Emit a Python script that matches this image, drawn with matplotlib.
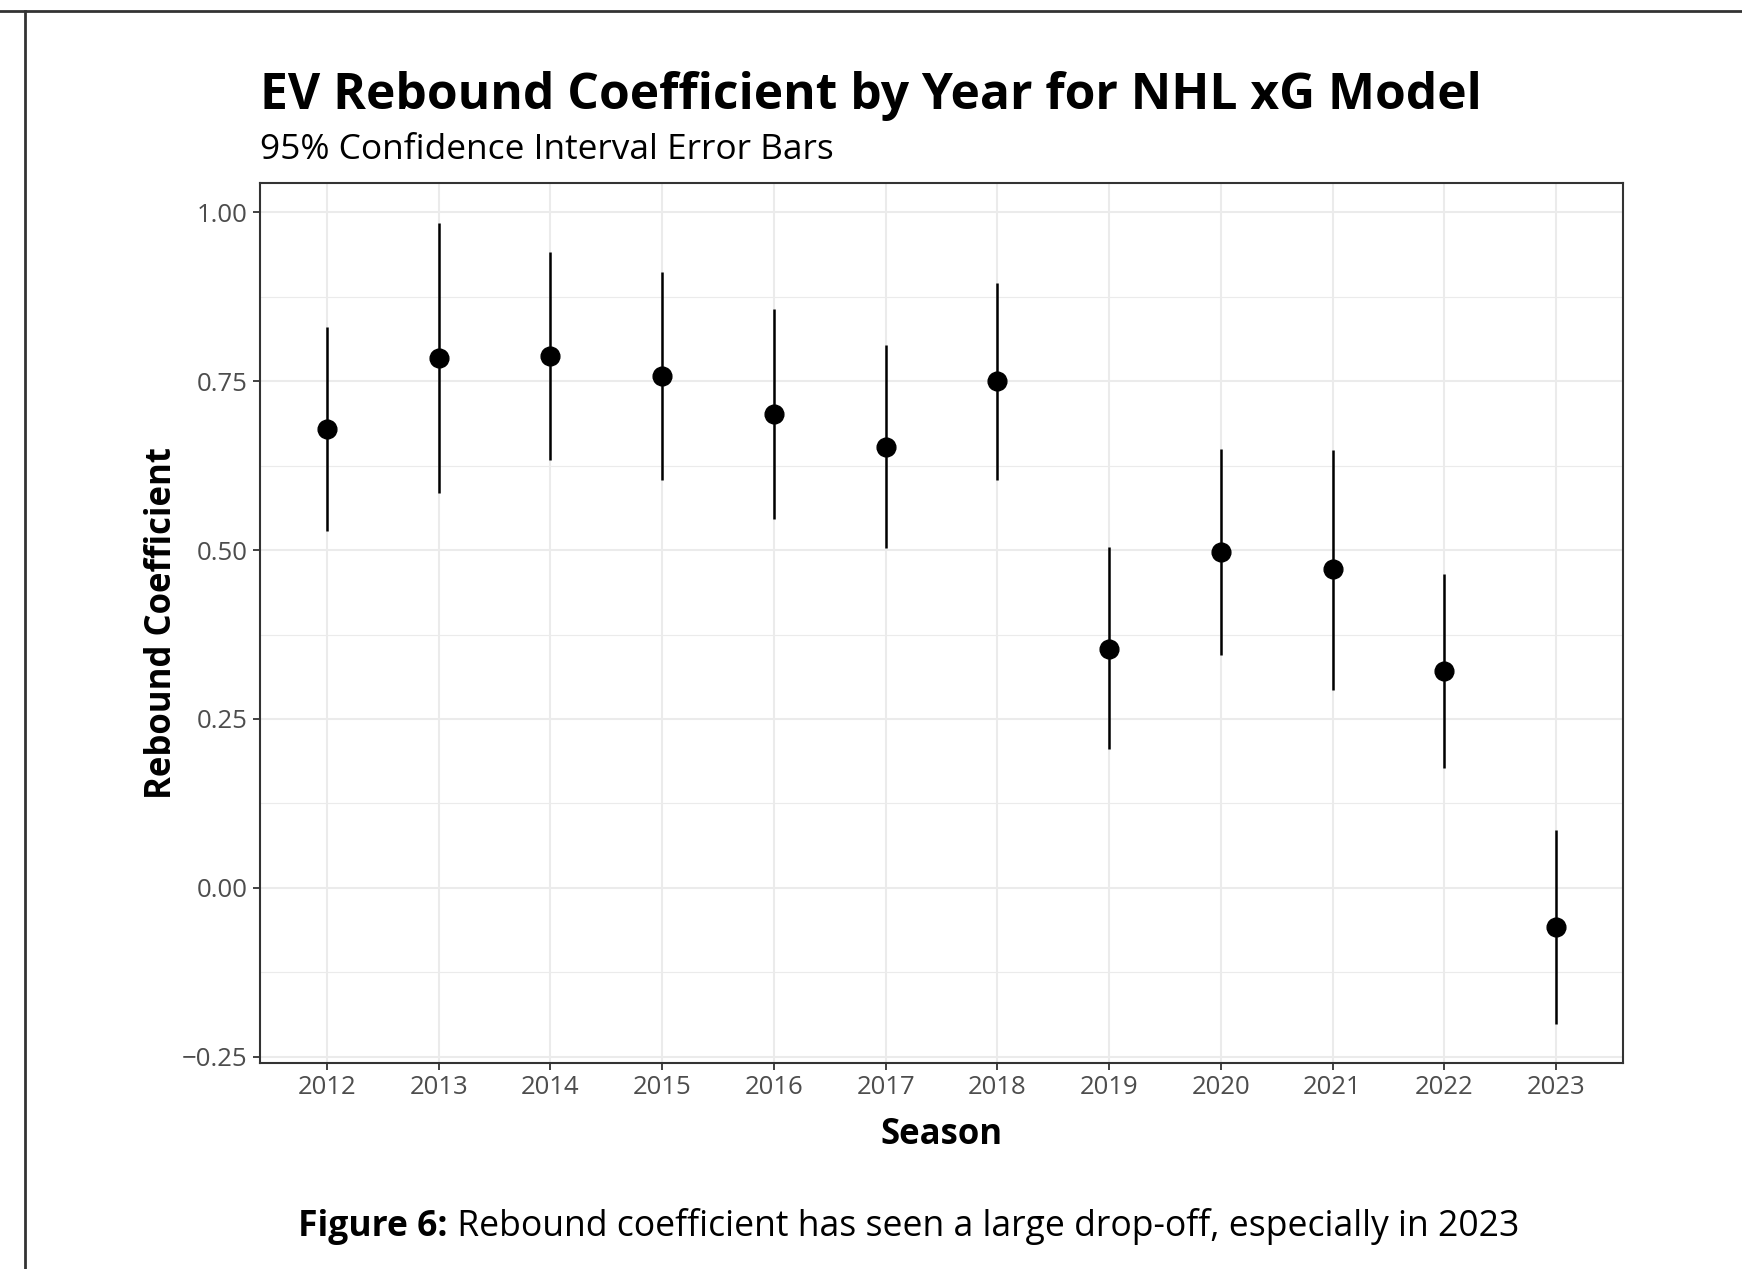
import numpy as np
import matplotlib.pyplot as plt
from matplotlib.lines import Line2D

seasons = [2012, 2013, 2014, 2015, 2016, 2017, 2018, 2019, 2020, 2021, 2022, 2023]
coef = [0.679, 0.784, 0.788, 0.758, 0.701, 0.653, 0.750, 0.354, 0.497, 0.472, 0.321, -0.058]
upper = [0.830, 0.984, 0.941, 0.911, 0.857, 0.803, 0.895, 0.504, 0.650, 0.648, 0.464, 0.086]
lower = [0.528, 0.584, 0.633, 0.604, 0.546, 0.503, 0.604, 0.205, 0.344, 0.293, 0.178, -0.201]
y_ticks = [-0.25, 0.00, 0.25, 0.50, 0.75, 1.00]
y_minor = [-0.125, 0.125, 0.375, 0.625, 0.875]

plt.rcParams['font.family'] = ['Open Sans', 'DejaVu Sans']

W, H = 1742, 1269
fig = plt.figure(figsize=(W / 100, H / 100), dpi=100)
ax = fig.add_axes([260 / W, 1 - 1063 / H, (1623 - 260) / W, (1063 - 183) / H])

grid_col = '#EBEBEB'
for y in y_minor:
    ax.axhline(y, color=grid_col, lw=0.8, zorder=0)
for y in y_ticks:
    ax.axhline(y, color=grid_col, lw=1.5, zorder=0)
for x in seasons:
    ax.axvline(x, color=grid_col, lw=1.5, zorder=0)

ax.vlines(seasons, lower, upper, color='black', lw=1.8, zorder=2)
ax.plot(seasons, coef, 'o', color='black', ms=13.5, zorder=3)

ax.set_xlim(2011.4, 2023.6)
ax.set_ylim(-0.2593, 1.0434)
ax.set_xticks(seasons)
ax.set_xticklabels([str(s) for s in seasons])
ax.set_yticks(y_ticks)
ax.set_yticklabels(['\u22120.25', '0.00', '0.25', '0.50', '0.75', '1.00'])
ax.tick_params(axis='both', length=5, width=1.3, color='#333333', labelcolor='#4D4D4D',
               labelsize=18.5, pad=4)
for s in ax.spines.values():
    s.set_color('#333333')
    s.set_linewidth(1.5)

ax.set_xlabel('Season', fontsize=25, fontweight='bold', labelpad=12)
ax.set_ylabel('Rebound Coefficient', fontsize=25, fontweight='bold', labelpad=1)

fig.text(260 / W, 1 - 109 / H, 'EV Rebound Coefficient by Year for NHL xG Model',
         fontsize=35.8, fontweight='bold', ha='left', va='baseline')
fig.text(260 / W, 1 - 159 / H, '95% Confidence Interval Error Bars',
         fontsize=25.4, ha='left', va='baseline')

t1 = fig.text(298 / W, 1 - 1236 / H, 'Figure 6:', fontsize=25.6, fontweight='bold',
              ha='left', va='baseline')
t2 = fig.text(0, 1 - 1236 / H, ' Rebound coefficient has seen a large drop-off, especially in 2023',
              fontsize=25.6, ha='left', va='baseline')
fig.canvas.draw()
bb = t1.get_window_extent()
t2.set_x(bb.x1 / W)

# page frame
fig.add_artist(Line2D([0, 1], [1 - 10.5 / H, 1 - 10.5 / H], color='#333333', lw=2))
fig.add_artist(Line2D([25 / W, 25 / W], [0, 1 - 10.5 / H], color='#333333', lw=2))

fig.savefig('out.png', dpi=100)
